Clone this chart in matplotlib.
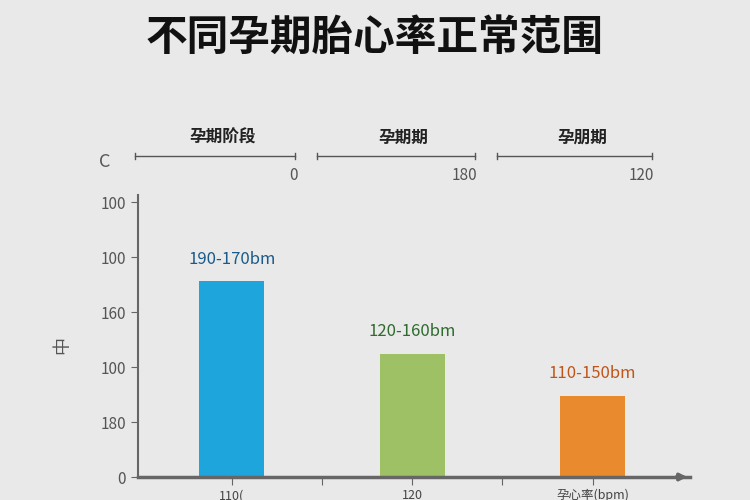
import matplotlib
matplotlib.use("Agg")
import matplotlib.pyplot as plt

plt.rcParams['font.family'] = ['Noto Sans CJK SC', 'DejaVu Sans']

title = "不同孕期胎心率正常范围"
stages = ["孕期阶段", "孕期期", "孕朋期"]
stage_nums = ["0", "180", "120"]
bar_vals = [3.56, 2.24, 1.47]
bar_labels = ["190-170bm", "120-160bm", "110-150bm"]
bar_colors = ["#1ea5dc", "#9dc164", "#ea8a2e"]
label_colors = ["#1a5a8a", "#2e6b2e", "#c0551a"]
ytick_labels = ["0", "180", "100", "160", "100", "100"]
xtick_labels = ["110(", "120", "孕心率(bpm)"]

bg = "#e9e9e9"
fig = plt.figure(figsize=(7.5, 5), dpi=100, facecolor=bg)
fig.text(0.5, 0.925, title, ha="center", va="center", fontsize=30, fontweight="bold", color="#111111")

segs = [(135, 295), (317, 475), (497, 652)]
for (a, b), s, n in zip(segs, stages, stage_nums):
    y = 1 - 156 / 500
    fig.add_artist(plt.Line2D([a / 750, b / 750], [y, y], color="#555555", lw=1))
    for xx in (a, b):
        fig.add_artist(plt.Line2D([xx / 750] * 2, [y - 0.006, y + 0.006], color="#555555", lw=1))
    fig.text((a + b) / 2 / 750 + 0.01, 1 - 138 / 500, s, ha="center", va="center", fontsize=12, fontweight="bold", color="#222222")
    fig.text(b / 750 + 0.003, 1 - 176 / 500, n, ha="right", va="center", fontsize=11, color="#555555")
fig.text(105 / 750, 1 - 162 / 500, "C", ha="center", va="center", fontsize=13, color="#555555")

ax = fig.add_axes([138 / 750, 23 / 500, (690 - 138) / 750, (477 - 195) / 500])
ax.set_facecolor(bg)
xs = list(range(len(bar_vals)))
ax.bar(xs, bar_vals, width=0.36, color=bar_colors)
for x, v, t, c in zip(xs, bar_vals, bar_labels, label_colors):
    ax.text(x, v + 0.25, t, ha="center", va="bottom", fontsize=12, color=c)
ax.set_xlim(-0.52, 2.54)
ax.set_ylim(0, 5.13)
ax.set_yticks(range(6))
ax.set_yticklabels(ytick_labels, fontsize=11, color="#555555")
ax.set_xticks([0, 0.5, 1, 1.5, 2])
ax.set_xticklabels([])
ax.tick_params(axis="x", direction="out", length=6, color="#666666", pad=2)
ax.tick_params(axis="y", direction="out", length=5, color="#666666")
for sp in ["top", "right"]:
    ax.spines[sp].set_visible(False)
ax.spines["left"].set_color("#666666")
ax.spines["bottom"].set_color("#666666")
ax.spines["bottom"].set_linewidth(2.5)
ax.spines["left"].set_linewidth(1.5)
ax.annotate("", xy=(1.0, 0), xytext=(0.97, 0), xycoords="axes fraction",
            arrowprops=dict(arrowstyle="-|>", color="#666666", lw=2.5), annotation_clip=False)
for x, t in zip(xs, xtick_labels):
    ax.text(x, -0.22, t, ha="center", va="top", fontsize=9, color="#444444", clip_on=False)
fig.text(62 / 750, 1 - 345 / 500, "中", rotation=90, ha="center", va="center", fontsize=13, color="#555555")

fig.savefig("out.png", dpi=100, facecolor=bg)
